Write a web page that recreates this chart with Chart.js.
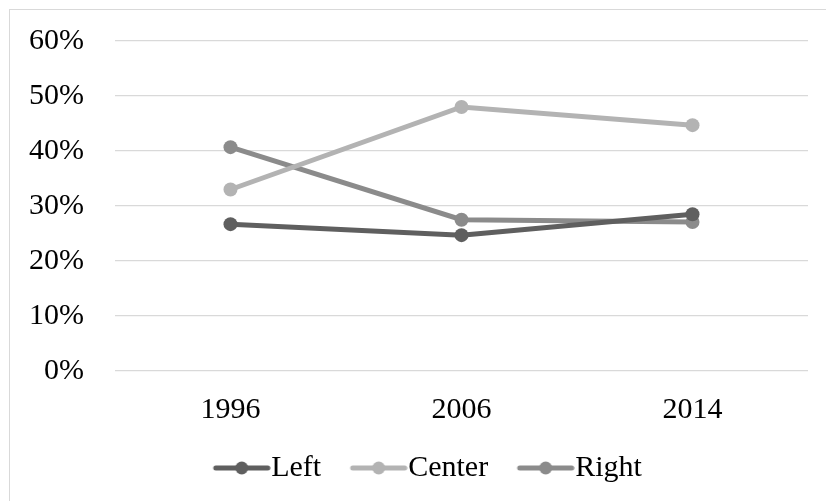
<!DOCTYPE html>
<html>
<head>
<meta charset="utf-8">
<script src="https://cdn.jsdelivr.net/npm/chart.js@4.4.1/dist/chart.umd.min.js"></script>
<style>
  html, body { margin: 0; padding: 0; background: #fff; overflow: hidden; }
  #frame {
    position: absolute; left: 9px; top: 9px;
    width: 830px; height: 500px;
    border-left: 1px solid #d9d9d9;
    border-top: 1px solid #d9d9d9;
  }
  #wrap { position: absolute; left: 0; top: 0; width: 826px; height: 501px; }
</style>
</head>
<body>
<div id="frame"></div>
<div id="wrap"><canvas id="mainChart"></canvas></div>
<script>
// survey shares by position
const years = ['1996', '2006', '2014'];
const leftValues = [0.267, 0.247, 0.285];
const centerValues = [0.330, 0.480, 0.447];
const rightValues = [0.407, 0.275, 0.271];
const yTicks = [0, 0.1, 0.2, 0.3, 0.4, 0.5, 0.6];

const FONT = '"Times New Roman", "Liberation Serif", serif';

// legend swatch: short line with a dot in the middle.
// Chart.js centres the image on the box and puts the text half a font size
// after it, so pad the left side to make the line touch the text.
function lineSwatch(color) {
    const c = document.createElement('canvas');
    c.width = 72; c.height = 16;
    const g = c.getContext('2d');
    g.strokeStyle = color;
    g.lineWidth = 5;
    g.lineCap = 'round';
    g.beginPath();
    g.moveTo(17, 8); g.lineTo(69, 8);
    g.stroke();
    g.fillStyle = color;
    g.beginPath();
    g.arc(43, 8, 6.5, 0, Math.PI * 2);
    g.fill();
    return c;
}

function series(label, data, color) {
    return {
        label: label,
        data: data,
        borderColor: color,
        backgroundColor: color,
        borderWidth: 5,
        pointRadius: 7,
        pointHoverRadius: 7,
        pointBorderWidth: 0,
        pointBackgroundColor: color,
        tension: 0
    };
}

// legend in the original sits a little right of centre
const nudgeLegend = {
    id: 'nudgeLegend',
    afterLayout(chart) {
        if (chart.legend) {
            chart.legend.left += 10;
            chart.legend.right += 10;
        }
    }
};

const ctx = document.getElementById('mainChart').getContext('2d');
new Chart(ctx, {
    type: 'line',
    data: {
        labels: years,
        datasets: [
            series('Left', leftValues, '#5f5f5f'),
            series('Center', centerValues, '#b3b3b3'),
            series('Right', rightValues, '#8b8b8b')
        ]
    },
    plugins: [nudgeLegend],
    options: {
        responsive: true,
        maintainAspectRatio: false,
        animation: false,
        layout: { padding: { left: 27, right: 18, top: 41, bottom: 8 } },
        scales: {
            y: {
                min: 0,
                max: 0.6,
                afterBuildTicks: axis => { axis.ticks = yTicks.map(v => ({ value: v })); },
                afterFit: axis => {
                    axis.width = 88;
                    axis.paddingTop = 0;
                    axis.paddingBottom = 0;
                },
                grid: { color: '#d9d9d9', lineWidth: 1.3, drawTicks: false },
                border: { display: false },
                ticks: {
                    padding: 31,
                    color: '#000',
                    font: { family: FONT, size: 30 },
                    callback: v => Math.round(v * 100) + '%'
                }
            },
            x: {
                offset: true,
                afterFit: axis => { axis.height -= 25; },
                grid: { display: false, drawTicks: false },
                border: { display: false },
                ticks: {
                    padding: 21,
                    color: '#000',
                    font: { family: FONT, size: 30 }
                }
            }
        },
        plugins: {
            legend: {
                position: 'bottom',
                labels: {
                    usePointStyle: true,
                    pointStyleWidth: 43,
                    boxHeight: 16,
                    padding: 29,
                    color: '#000',
                    font: { family: FONT, size: 30 },
                    generateLabels: chart => chart.data.datasets.map((ds, i) => ({
                        text: ds.label,
                        pointStyle: lineSwatch(ds.borderColor),
                        fillStyle: ds.borderColor,
                        strokeStyle: ds.borderColor,
                        lineWidth: 0,
                        fontColor: '#000',
                        datasetIndex: i
                    }))
                }
            },
            tooltip: { enabled: false }
        }
    }
});
</script>
</body>
</html>
